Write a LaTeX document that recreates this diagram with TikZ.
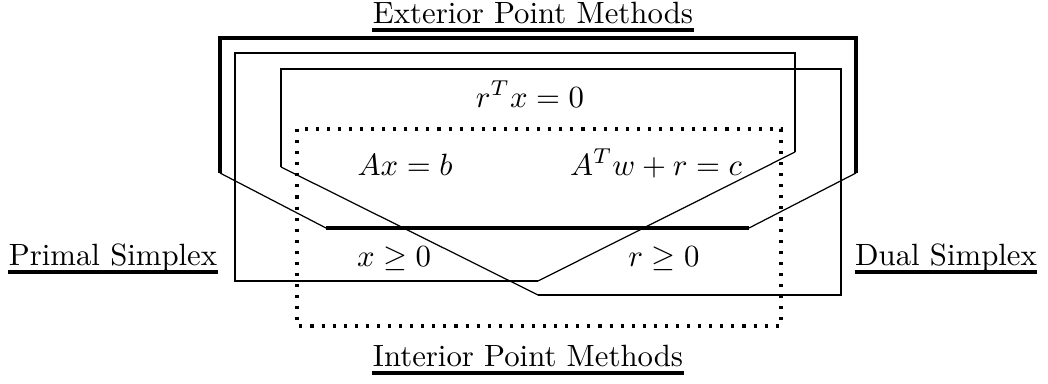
\documentclass[tikz,border=0pt]{standalone}
\usepackage{tikz}
\tikzset{
  titre/.style={anchor=base,inner sep=0,text depth=2.2pt},
  souligne/.style={line width=1.3pt},
  formule/.style={anchor=base,inner sep=0},
  trait/.style={line width=0.7pt},
  epais/.style={line width=1.1pt},
  oblique/.style={line width=0.4pt},
  pointille/.style={line width=1pt,dash pattern=on 1pt off 2.6pt}
}
\begin{document}
\begin{tikzpicture}[x=0.325pt,y=-0.325pt]
  \useasboundingbox (0,0) rectangle (1048,383);

  % --- Zone des méthodes extérieures (trait épais) ---
  \draw[epais] (220,173) -- (220,38) -- (856,38) -- (856,173);
  \draw[epais] (326,228) -- (749,228);
  \draw[oblique] (220,173) -- (326,228);
  \draw[oblique] (856,173) -- (749,228);

  % --- Simplexe primal ---
  \draw[trait] (795,152) -- (795,53) -- (235,53) -- (235,281) -- (538,281);
  \draw[oblique] (538,281) -- (795,152);

  % --- Simplexe dual ---
  \draw[trait] (281,167) -- (281,69) -- (841,69) -- (841,295) -- (538,295);
  \draw[oblique] (538,295) -- (281,167);

  % --- Méthodes intérieures (pointillé) ---
  \draw[pointille] (297,129) rectangle (781,326);

  % --- Conditions ---
  \node[formule] (compl) at (530,107) {$r^Tx=0$};
  \node[formule] (primeq) at (405,175) {$Ax=b$};
  \node[formule] (dualeq) at (656,175) {$A^Tw+r=c$};
  \node[formule] (xpos) at (394,266) {$x\geq0$};
  \node[formule] (rpos) at (664,266) {$r\geq0$};

  % --- Titres soulignés ---
  \node[titre] (ext) at (533,23) {Exterior Point Methods};
  \node[titre] (int) at (528,366) {Interior Point Methods};
  \node[titre] (prim) at (113,265) {Primal Simplex};
  \node[titre] (dual) at (946,265) {Dual Simplex};
  \foreach \n in {ext,int,prim,dual}
    \draw[souligne] (\n.south west) -- (\n.south east);
\end{tikzpicture}
\end{document}
